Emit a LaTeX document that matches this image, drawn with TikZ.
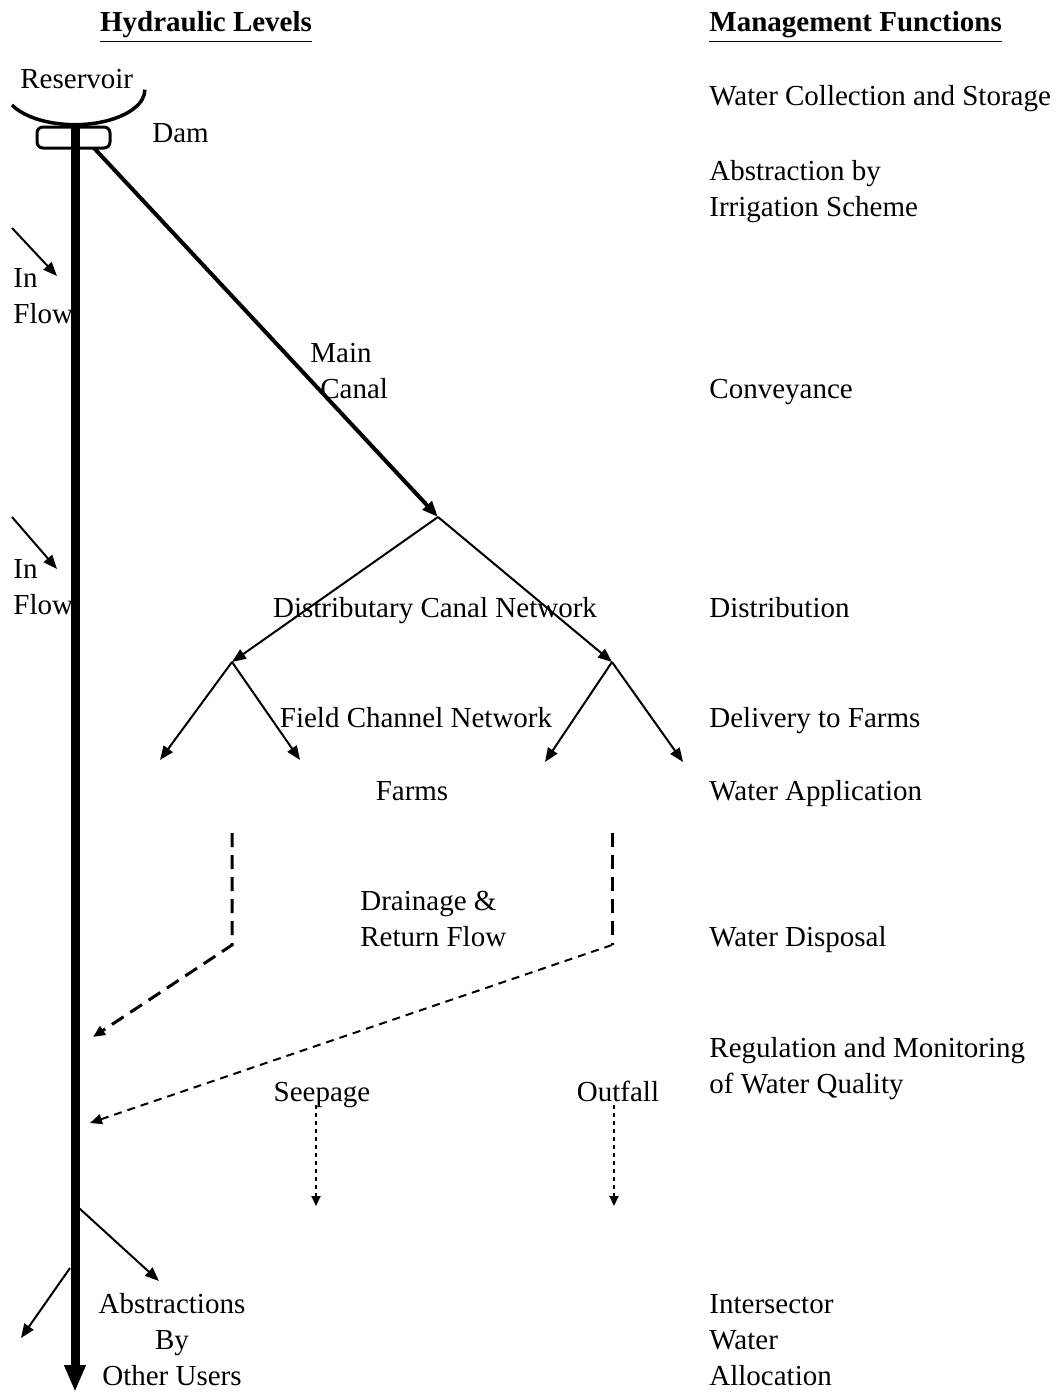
\documentclass[tikz,border=0pt]{standalone}
\usepackage{fontspec}
\setmainfont{Liberation Serif}
\usepackage{tikz}
\usetikzlibrary{arrows.meta}

\begin{document}
\begin{tikzpicture}[x=0.5pt,y=-0.5pt,
  lbl/.style={inner sep=0pt,anchor=base west,align=left,font=\fontsize{14.5}{18}\selectfont},
  clbl/.style={lbl,anchor=base,align=center},
  head/.style={lbl,font=\fontsize{14.5}{18}\selectfont\bfseries},
  trunk/.style={line width=4.5pt,-{Triangle[length=13.5pt,width=10pt]}},
  canal/.style={line width=2pt,-{Triangle[length=8pt,width=6pt]}},
  branch/.style={line width=1pt,-{Triangle[length=7pt,width=5.5pt]}},
  drainl/.style={line width=1.5pt,dash pattern=on 7pt off 4pt},
  drains/.style={line width=1pt,dash pattern=on 4pt off 3pt},
  seep/.style={line width=1pt,dash pattern=on 2pt off 2pt,-{Triangle[length=5pt,width=4.5pt]}}]
\useasboundingbox (0,0) rectangle (1062,1392);
% reservoir and dam
\draw[line width=1.75pt] (12,105) arc[start angle=154, end angle=0, x radius=70, y radius=35];
\node[draw,line width=1.5pt,rounded corners=3pt,minimum width=36.5pt,minimum height=10.5pt,inner sep=0pt] (dam) at (73.5,137.5) {};
% river
\coordinate (damtop) at (75,127);
\coordinate (sea) at (75,1392);
\draw[trunk] (damtop)-- (sea);
% canal tree
\coordinate (canalstart) at (94,148);
\coordinate (split) at (438,517);
\coordinate (lsplit) at (232,662);
\coordinate (rsplit) at (612,662);
\coordinate (fa) at (160,760);
\coordinate (fb) at (300,760);
\coordinate (fc) at (545,762);
\coordinate (fd) at (683,762);
\draw[canal] (canalstart)-- (split);
\draw[branch] (split)-- (lsplit);
\draw[branch] (split)-- (rsplit);
\draw[branch] (lsplit)-- (fa);
\draw[branch] (lsplit)-- (fb);
\draw[branch] (rsplit)-- (fc);
\draw[branch] (rsplit)-- (fd);
% in flows
\coordinate (inA) at (12,228);
\coordinate (inAend) at (57,276);
\coordinate (inB) at (12,517);
\coordinate (inBend) at (57,569);
\draw[branch] (inA)-- (inAend);
\draw[branch] (inB)-- (inBend);
% drainage
\coordinate (ldtop) at (232,833);
\coordinate (ldbend) at (232,945);
\coordinate (ldend) at (93,1037);
\coordinate (rdtop) at (612,833);
\coordinate (rdbend) at (612,945);
\coordinate (rdend) at (90,1123);
\draw[drainl,-{Triangle[length=6pt,width=5pt]}] (ldtop)-- (ldbend)-- (ldend);
\draw[drainl] (rdtop)-- (rdbend);
\draw[drains,-{Triangle[length=6pt,width=5pt]}] (rdbend)-- (rdend);
% seepage and outfall
\coordinate (seeptop) at (316,1105);
\coordinate (seepend) at (316,1206);
\coordinate (outtop) at (614,1105);
\coordinate (outend) at (614,1206);
\draw[seep] (seeptop)-- (seepend);
\draw[seep] (outtop)-- (outend);
% abstractions
\coordinate (absA) at (79,1208);
\coordinate (absAend) at (159,1281);
\coordinate (absB) at (70,1268);
\coordinate (absBend) at (21,1338);
\draw[branch] (absA)-- (absAend);
\draw[branch] (absB)-- (absBend);
% hydraulic levels (multi-line nodes sit on their last line)
\node[head,anchor=base] (hyd) at (206,32) {\underline{Hydraulic Levels}};
\node[lbl] (res) at (20,88) {Reservoir};
\node[lbl] (damlbl) at (152,142) {Dam};
\node[lbl] (inflowA) at (13,323) {In\\Flow};
\node[lbl] (inflowB) at (13,614) {In\\Flow};
\node[lbl] (maincanal) at (310,398) {Main\\\hspace*{5pt}Canal};
\node[clbl] (dcn) at (435,617) {Distributary Canal Network};
\node[clbl] (fcn) at (416,727) {Field Channel Network};
\node[clbl] (farms) at (412,800) {Farms};
\node[lbl] (drain) at (360,946) {Drainage \&\\Return Flow};
\node[clbl] (seepage) at (322,1101) {Seepage};
\node[clbl] (outfall) at (618,1101) {Outfall};
\node[clbl] (abs) at (172,1385) {Abstractions\\By\\Other Users};
% management functions
\node[head] (mgmt) at (709,32) {\underline{Management Functions}};
\node[lbl] (collect) at (709,105) {Water Collection and Storage};
\node[lbl] (abstract) at (709,216) {Abstraction by\\Irrigation Scheme};
\node[lbl] (convey) at (709,398) {Conveyance};
\node[lbl] (distrib) at (709,617) {Distribution};
\node[lbl] (deliver) at (709,727) {Delivery to Farms};
\node[lbl] (apply) at (709,800) {Water Application};
\node[lbl] (dispose) at (709,946) {Water Disposal};
\node[lbl] (quality) at (709,1093) {Regulation and Monitoring\\of Water Quality};
\node[lbl] (alloc) at (709,1385) {Intersector\\Water\\Allocation};
\end{tikzpicture}
\end{document}
